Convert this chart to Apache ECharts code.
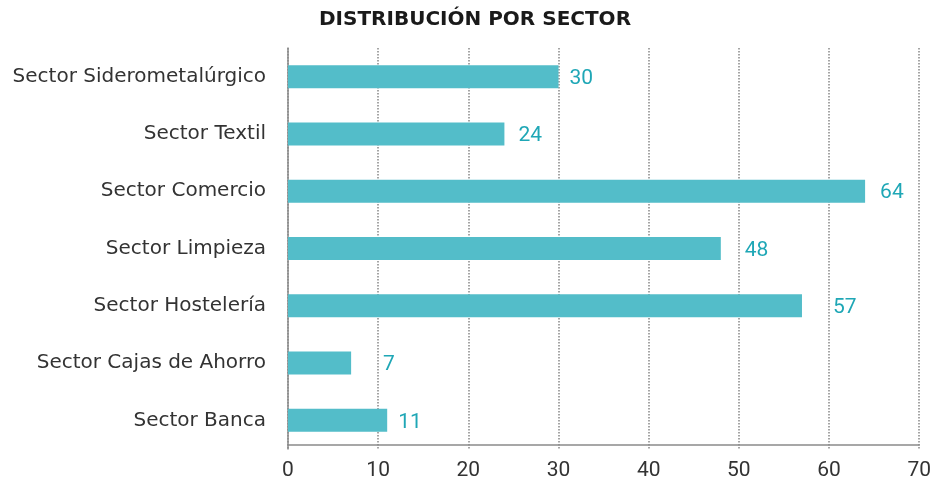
<!DOCTYPE html>
<html>
<head>
<meta charset="utf-8">
<script src="https://cdn.jsdelivr.net/npm/echarts@6/dist/echarts.min.js"></script>
<style>
  html, body { margin: 0; padding: 0; background: #fff; }
  #main { width: 934px; height: 486px; }
</style>
</head>
<body>
<div id="main"></div>
<script>
// 分类(从上到下)
var sectors = ['Sector Siderometalúrgico', 'Sector Textil', 'Sector Comercio', 'Sector Limpieza',
    'Sector Hostelería', 'Sector Cajas de Ahorro', 'Sector Banca'];
// 数值
var values = [30, 24, 64, 48, 57, 7, 11];
// 数值标签与柱端的间距
var labelGaps = [11, 14, 15, 24, 31, 32, 11];

var myChart = echarts.init(document.getElementById('main'));

var option = {
    animation: false,
    title: {
        text: 'DISTRIBUCIÓN POR SECTOR',
        left: 470,
        textAlign: 'center',
        top: 5,
        textStyle: {
            fontFamily: 'DejaVu Sans',
            fontWeight: 'bold',
            fontSize: 20,
            color: '#1a1a1a'
        }
    },
    grid: {
        left: 288,
        right: 12,
        top: 48,
        height: 401,
        containLabel: false
    },
    xAxis: {
        type: 'value',
        min: 0,
        max: 70,
        interval: 10,
        offset: -4,
        axisLine: { show: true, lineStyle: { color: '#8a8a8a', width: 1.5 } },
        axisTick: { show: false },
        axisLabel: {
            fontFamily: 'Roboto',
            fontSize: 21,
            color: '#333',
            margin: 15
        },
        splitLine: {
            show: true,
            lineStyle: { type: 'dotted', color: '#888', width: 1.5 }
        }
    },
    yAxis: {
        type: 'category',
        inverse: true,
        data: sectors,
        axisLine: { show: true, lineStyle: { color: '#8a8a8a', width: 1.5 } },
        axisTick: { show: false },
        axisLabel: {
            fontFamily: 'DejaVu Sans',
            fontSize: 20,
            color: '#333',
            margin: 22
        }
    },
    series: [{
        type: 'bar',
        barWidth: 23,
        itemStyle: { color: '#53bdc9' },
        data: values.map(function (v, i) {
            return {
                value: v,
                label: { distance: labelGaps[i] }
            };
        }),
        label: {
            show: true,
            position: 'right',
            fontFamily: 'Roboto',
            fontSize: 21,
            color: '#1fa7b6',
            offset: [0, 2]
        }
    }]
};

myChart.setOption(option);
</script>
</body>
</html>
